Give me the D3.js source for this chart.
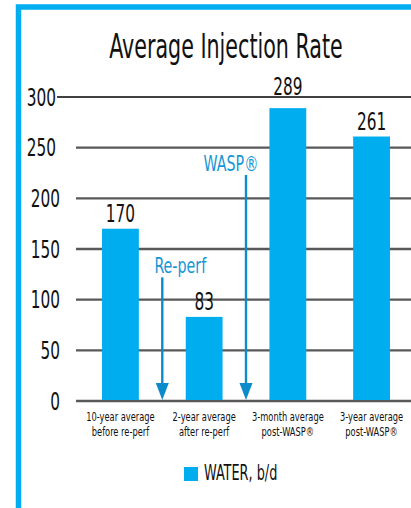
<!DOCTYPE html>
<html>
<head>
<meta charset="utf-8">
<script src="https://cdn.jsdelivr.net/npm/d3@7"></script>
<style>
  html, body { margin: 0; padding: 0; background: #fff; }
  svg { display: block; }
  text { font-family: 'DejaVu Sans Condensed', 'DejaVu Sans', sans-serif; font-stretch: condensed; }
</style>
</head>
<body>
<svg width="411" height="508"></svg>
<script>
// chart data
const categories = [
  ['10-year average', 'before re-perf'],
  ['2-year average', 'after re-perf'],
  ['3-month average', 'post-WASP®'],
  ['3-year average', 'post-WASP®']
]
const water = [170, 83, 289, 261]
const yTicks = [0, 50, 100, 150, 200, 250, 300]
// arrows drawn between two categories, starting at a value on the y scale
const events = [
  { label: 'Re-perf', after: 0, from: 122 },
  { label: 'WASP®', after: 1, from: 223 }
]
const seriesName = 'WATER, b/d'
const title = 'Average Injection Rate'

const blue = '#00aeef'
const arrowBlue = '#0b8bca'
const textBlue = '#1796d4'
const gridGray = '#58585b'

let svg = d3.select('svg')

// frame (open on right and bottom)
svg.append('path')
    .attr('d', 'M18.5,520 V7 H420')
    .attr('fill', 'none')
    .attr('stroke', blue)
    .attr('stroke-width', 5.5)

let x = d3.scaleBand()
    .domain(d3.range(categories.length))
    .range([78, 414])
    .paddingInner(0.56)
    .paddingOuter(0.287)

let y = d3.scaleLinear()
    .domain([0, 300])
    .range([401, 97])

// text with horizontal squeeze, like a condensed display face
function label(g, str, px, py, size, anchor, sx, color) {
  return g.append('text')
      .attr('transform', 'translate(' + px + ',' + py + ') scale(' + sx + ',1)')
      .attr('text-anchor', anchor)
      .attr('font-size', size)
      .attr('fill', color || '#111')
      .text(str)
}

label(svg, title, 226, 58, 34, 'middle', 0.675)

// grid lines
let grid = svg.append('g')
grid.selectAll('line')
    .data(yTicks)
    .enter().append('line')
      .attr('x1', function(d) { return d == 300 ? 57 : 76 })
      .attr('x2', 411)
      .attr('y1', function(d) { return y(d) })
      .attr('y2', function(d) { return y(d) })
      .attr('stroke', function(d) { return d == 300 ? '#000' : gridGray })
      .attr('stroke-width', function(d) { return d == 300 ? 1.3 : 2.4 })

// tick labels
let ticks = svg.append('g')
yTicks.forEach(function(t) {
  label(ticks, t, t >= 250 ? 56 : 60, y(t) + 8.5, 24, 'end', 0.71)
})

// bars
svg.append('g')
  .selectAll('rect')
  .data(water)
  .enter().append('rect')
    .attr('x', function(d, i) { return x(i) })
    .attr('width', x.bandwidth())
    .attr('y', function(d) { return y(d) })
    .attr('height', function(d) { return y(0) - y(d) - 1 })
    .attr('fill', blue)

// value labels, lifted over the top line when they would cross it
let vals = svg.append('g')
water.forEach(function(v, i) {
  let ly = y(v) - 7
  if (ly - 18 < y(300) && ly > y(300)) ly = y(300) - 2
  label(vals, v, x(i) + x.bandwidth() / 2, ly, 24, 'middle', 0.71)
})

// category labels
let cats = svg.append('g')
categories.forEach(function(c, i) {
  let cx = x(i) + x.bandwidth() / 2
  label(cats, c[0], cx, 421, 13, 'middle', 0.71)
  label(cats, c[1], cx, 436, 13, 'middle', 0.71)
})

// event arrows
let arr = svg.append('g')
events.forEach(function(e) {
  let ax = (x(e.after) + x.bandwidth() + x(e.after + 1)) / 2
  let tip = y(0) - 1
  arr.append('line')
      .attr('x1', ax).attr('x2', ax)
      .attr('y1', y(e.from)).attr('y2', tip - 10)
      .attr('stroke', arrowBlue)
      .attr('stroke-width', 2.4)
  arr.append('path')
      .attr('d', 'M' + (ax - 6.5) + ',' + (tip - 17) + ' L' + (ax + 6.5) + ',' + (tip - 17) + ' L' + ax + ',' + tip + 'Z')
      .attr('fill', arrowBlue)
  label(arr, e.label, ax + (e.after == 0 ? 18 : -15), y(e.from) - 4, 22, 'middle', 0.72, textBlue)
})

// legend
let leg = svg.append('g')
leg.append('rect')
    .attr('x', 184).attr('y', 467)
    .attr('width', 14).attr('height', 14)
    .attr('fill', blue)
label(leg, seriesName, 204, 480, 22, 'start', 0.65)
</script>
</body>
</html>
